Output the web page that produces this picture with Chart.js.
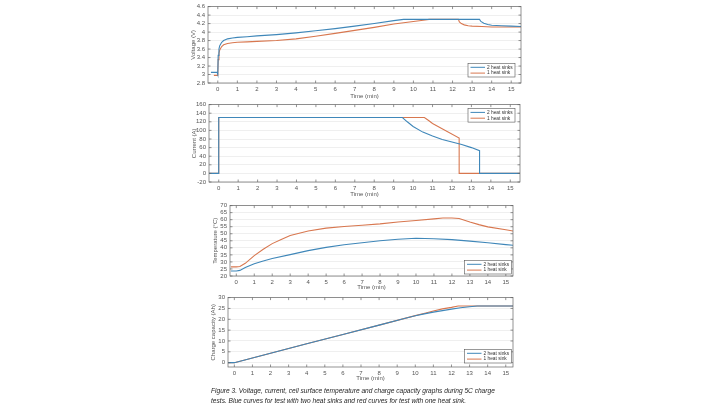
<!DOCTYPE html>
<html>
<head>
<meta charset="utf-8">
<script src="https://cdn.jsdelivr.net/npm/chart.js@4.4.1/dist/chart.umd.min.js"></script>
<style>
  html, body { margin: 0; padding: 0; background: #fff; }
  body { width: 720px; height: 404px; position: relative; overflow: hidden; }
  canvas { position: absolute; }
  .caption { position: absolute; left: 211px; top: 386px; font: italic 6.6px "Liberation Sans", Arial, sans-serif;
             color: #1e1e1e; line-height: 10px; white-space: nowrap; }
</style>
</head>
<body>
<canvas id="voltChart" width="335" height="100" style="left:190px; top:0px"></canvas>
<canvas id="currChart" width="333" height="100" style="left:191px; top:98px"></canvas>
<canvas id="tempChart" width="305" height="92" style="left:212px; top:199px"></canvas>
<canvas id="capChart" width="307" height="91" style="left:210px; top:291px"></canvas>
<div class="caption">Figure 3. Voltage, current, cell surface temperature and charge capacity graphs during 5C charge<br>tests. Blue curves for test with two heat sinks and red curves for test with one heat sink.</div>
<script>
// series names
var seriesLabels = ['2 heat sinks', '1 heat sink'];
var xTicks = [0, 1, 2, 3, 4, 5, 6, 7, 8, 9, 10, 11, 12, 13, 14, 15];

// voltage (V)
var voltTimeBlue = [-0.35, -0.03, 0, 0.02, 0.06, 0.1, 0.2, 0.3, 0.5, 0.75, 1, 1.5, 2, 3, 4, 5, 6, 7, 8, 9, 9.5, 13.38, 13.45, 13.6, 13.8, 14, 14.5, 15, 15.5];
var voltBlue     = [3.05, 3.05, 3.0, 3.45, 3.6, 3.68, 3.76, 3.8, 3.84, 3.86, 3.875, 3.89, 3.91, 3.94, 3.98, 4.03, 4.08, 4.14, 4.2, 4.27, 4.3, 4.3, 4.25, 4.21, 4.18, 4.16, 4.15, 4.14, 4.13];
var voltTimeRed  = [-0.2, 0, 0.02, 0.06, 0.1, 0.2, 0.3, 0.5, 0.75, 1, 1.5, 2, 3, 4, 5, 6, 7, 8, 9, 10, 10.5, 10.8, 12.3, 12.35, 12.45, 12.6, 12.8, 13, 13.5, 14, 15, 15.5];
var voltRed      = [2.98, 2.98, 3.35, 3.5, 3.58, 3.66, 3.7, 3.73, 3.75, 3.76, 3.77, 3.78, 3.8, 3.84, 3.9, 3.97, 4.04, 4.11, 4.19, 4.25, 4.28, 4.3, 4.3, 4.24, 4.2, 4.17, 4.15, 4.14, 4.13, 4.12, 4.12, 4.12];
var voltTicks = [2.8, 3, 3.2, 3.4, 3.6, 3.8, 4, 4.2, 4.4, 4.6];

// current (A)
var currTimeBlue = [-0.5, 0, 0, 9.45, 9.7, 10, 10.5, 11, 11.5, 12, 12.5, 13, 13.42, 13.42, 15.5];
var currBlue     = [0, 0, 130, 130, 120, 109, 96, 87, 79, 73, 67, 60, 53, 0, 0];
var currTimeRed  = [-0.5, 0, 0, 10.58, 10.8, 11, 12.37, 12.37, 15.5];
var currRed      = [0, 0, 130, 130, 123, 116, 82, 0, 0];
var currTicks = [-20, 0, 20, 40, 60, 80, 100, 120, 140, 160];

// cell surface temperature (°C)
var tempTimeBlue = [-0.3, 0, 0.2, 0.5, 1, 1.5, 2, 3, 4, 5, 6, 7, 8, 9, 10, 11, 12, 13, 14, 15, 15.4];
var tempBlue     = [23.5, 23.5, 24, 26, 28.7, 30.7, 32.4, 35.2, 38, 40.3, 42.2, 43.6, 45, 46.1, 46.8, 46.5, 45.8, 44.8, 43.6, 42.3, 41.8];
var tempTimeRed  = [-0.3, 0, 0.2, 0.5, 1, 1.5, 2, 2.5, 3, 4, 5, 6, 7, 8, 9, 10, 11, 11.5, 12, 12.4, 12.7, 13, 13.5, 14, 15, 15.4];
var tempRed      = [26.5, 26.5, 26.8, 29, 34.5, 39, 43, 46, 48.7, 52, 54, 55.2, 56, 57, 58.3, 59.4, 60.6, 61.2, 61.2, 60.8, 59.6, 58.3, 56.5, 54.9, 52.8, 52];
var tempTicks = [20, 25, 30, 35, 40, 45, 50, 55, 60, 65, 70];

// charge capacity (Ah)
var capTimeBlue = [-0.35, 0, 2, 4, 6, 8, 9.45, 10, 10.5, 11, 11.5, 12, 12.5, 13, 13.42, 15.4];
var capBlue     = [0, 0, 4.3, 8.7, 13, 17.3, 20.5, 21.6, 22.5, 23.3, 24, 24.7, 25.3, 25.8, 26.1, 26.1];
var capTimeRed  = [-0.35, 0, 2, 4, 6, 8, 10, 10.58, 11, 11.5, 12, 12.37, 15.4];
var capRed      = [0, 0, 4.3, 8.7, 13, 17.3, 21.7, 22.9, 23.8, 24.8, 25.5, 26.1, 26.1];
var capTicks = [0, 5, 10, 15, 20, 25, 30];

var blue = '#3f87b9';
var red = '#d8774f';
var fontFam = '"Liberation Sans", Arial, sans-serif';
var tickFont = { family: fontFam, size: 6 };

function pts(xs, ys) {
  return xs.map(function (x, i) { return { x: x, y: ys[i] }; });
}

// box around the axes with inward tick marks, like the matlab plot
var matlabAxes = {
  id: 'matlabAxes',
  afterDatasetsDraw: function (chart) {
    var a = chart.chartArea, ctx = chart.ctx;
    var xs = chart.scales.x, ys = chart.scales.y;
    ctx.save();
    ctx.strokeStyle = '#666';
    ctx.lineWidth = 0.7;
    ctx.strokeRect(a.left, a.top, a.right - a.left, a.bottom - a.top);
    ctx.beginPath();
    xs.ticks.forEach(function (t) {
      var px = xs.getPixelForValue(t.value);
      ctx.moveTo(px, a.bottom); ctx.lineTo(px, a.bottom - 2.5);
      ctx.moveTo(px, a.top); ctx.lineTo(px, a.top + 2.5);
    });
    ys.ticks.forEach(function (t) {
      var py = ys.getPixelForValue(t.value);
      ctx.moveTo(a.left, py); ctx.lineTo(a.left + 2.5, py);
      ctx.moveTo(a.right, py); ctx.lineTo(a.right - 2.5, py);
    });
    ctx.stroke();
    ctx.restore();
  }
};

// small legend box in a corner of the plot area
var cornerLegend = {
  id: 'cornerLegend',
  afterDraw: function (chart, args, opts) {
    var a = chart.chartArea, ctx = chart.ctx;
    var w = 47, h = 13.5;
    var x = a.right - opts.dx - w;
    var y = opts.corner === 'tr' ? a.top + opts.dy : a.bottom - opts.dy - h;
    ctx.save();
    ctx.fillStyle = '#fff';
    ctx.fillRect(x, y, w, h);
    ctx.strokeStyle = '#555';
    ctx.lineWidth = 0.6;
    ctx.strokeRect(x, y, w, h);
    ctx.font = '4.8px ' + fontFam;
    ctx.textBaseline = 'middle';
    chart.data.datasets.forEach(function (ds, i) {
      var cy = y + 3.8 + i * 5.8;
      ctx.strokeStyle = ds.borderColor;
      ctx.lineWidth = 1;
      ctx.beginPath();
      ctx.moveTo(x + 2.5, cy); ctx.lineTo(x + 17, cy);
      ctx.stroke();
      ctx.fillStyle = '#333';
      ctx.fillText(ds.label, x + 19, cy);
    });
    ctx.restore();
  }
};

function makeChart(id, c) {
  return new Chart(document.getElementById(id), {
    type: 'line',
    data: {
      datasets: [
        { label: seriesLabels[0], data: pts(c.tb, c.yb), borderColor: blue },
        { label: seriesLabels[1], data: pts(c.tr, c.yr), borderColor: red }
      ]
    },
    options: {
      responsive: false,
      animation: false,
      layout: { padding: { top: 5, right: 4, left: 0, bottom: 0 } },
      elements: { point: { radius: 0 }, line: { borderWidth: 1.1, tension: 0, fill: false } },
      plugins: {
        legend: { display: false },
        tooltip: { enabled: false },
        cornerLegend: c.legend
      },
      scales: {
        x: {
          type: 'linear', min: c.xMin, max: c.xMax,
          afterBuildTicks: function (s) { s.ticks = xTicks.map(function (v) { return { value: v }; }); },
          afterFit: function (s) { s.height = c.xh; },
          grid: { display: false, drawTicks: false },
          border: { display: false },
          ticks: { font: tickFont, color: '#555', padding: 3, maxRotation: 0, autoSkip: false },
          title: { display: true, text: 'Time (min)', font: tickFont, color: '#555', padding: 0 }
        },
        y: {
          min: c.yMin, max: c.yMax,
          afterBuildTicks: function (s) { s.ticks = c.yTicks.map(function (v) { return { value: v }; }); },
          afterFit: function (s) { s.width = 18; },
          grid: { color: '#e4e4e4', lineWidth: 0.6, drawTicks: false },
          border: { display: false },
          ticks: { font: tickFont, color: '#555', padding: 3, autoSkip: false,
                   callback: function (v) { return String(+v.toFixed(2)); } },
          title: { display: true, text: c.yTitle, font: tickFont, color: '#555', padding: 0 }
        }
      }
    },
    plugins: [matlabAxes, cornerLegend]
  });
}

makeChart('voltChart', {
  tb: voltTimeBlue, yb: voltBlue, tr: voltTimeRed, yr: voltRed,
  xMin: -0.5, xMax: 15.5, yMin: 2.8, yMax: 4.6, yTicks: voltTicks,
  yTitle: 'Voltage (V)', xh: 17, legend: { corner: 'br', dx: 6, dy: 6 }
});
makeChart('currChart', {
  tb: currTimeBlue, yb: currBlue, tr: currTimeRed, yr: currRed,
  xMin: -0.5, xMax: 15.5, yMin: -20, yMax: 160, yTicks: currTicks,
  yTitle: 'Current (A)', xh: 16, legend: { corner: 'tr', dx: 5, dy: 4 }
});
makeChart('tempChart', {
  tb: tempTimeBlue, yb: tempBlue, tr: tempTimeRed, yr: tempRed,
  xMin: -0.35, xMax: 15.4, yMin: 20, yMax: 70, yTicks: tempTicks,
  yTitle: 'Temperature (°C)', xh: 15, legend: { corner: 'br', dx: 1.5, dy: 2 }
});
makeChart('capChart', {
  tb: capTimeBlue, yb: capBlue, tr: capTimeRed, yr: capRed,
  xMin: -0.35, xMax: 15.4, yMin: -2, yMax: 30, yTicks: capTicks,
  yTitle: 'Charge capacity (Ah)', xh: 15, legend: { corner: 'br', dx: 1.5, dy: 4 }
});
</script>
</body>
</html>
